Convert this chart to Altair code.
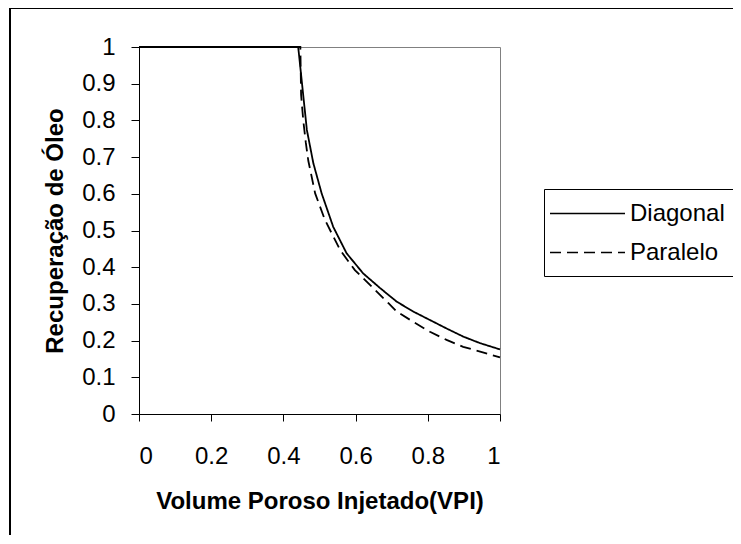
import altair as alt
import pandas as pd

series = ["Diagonal", "Paralelo"]

x_diag = [0.0, 0.441, 0.465, 0.483, 0.506, 0.538, 0.575, 0.621, 0.668, 0.714,
          0.760, 0.806, 0.852, 0.898, 0.945, 1.0]
y_diag = [1.0, 1.0, 0.774, 0.683, 0.601, 0.510, 0.438, 0.383, 0.343, 0.306,
          0.279, 0.256, 0.233, 0.211, 0.193, 0.176]

x_par = [0.0, 0.447, 0.449, 0.455, 0.462, 0.469, 0.488, 0.515, 0.557, 0.598,
         0.645, 0.691, 0.714, 0.760, 0.806, 0.852, 0.898, 0.945, 1.0]
y_par = [1.0, 1.0, 0.870, 0.800, 0.740, 0.690, 0.601, 0.529, 0.447, 0.392,
         0.347, 0.302, 0.279, 0.251, 0.224, 0.202, 0.183, 0.170, 0.154]

x_ticks = [0, 0.2, 0.4, 0.6, 0.8, 1]
y_ticks = [round(i * 0.1, 1) for i in range(11)]

df = pd.concat([
    pd.DataFrame({"x": x_diag, "y": y_diag, "serie": series[0], "ord": range(len(x_diag))}),
    pd.DataFrame({"x": x_par, "y": y_par, "serie": series[1], "ord": range(len(x_par))}),
])

FONT = "Liberation Sans"
one = alt.Data(values=[{"k": 1}])

# outer chart frame (decoration)
frame = alt.Chart(one).mark_rect(
    filled=False, stroke="black", strokeWidth=2
).encode(
    x=alt.value(-129), x2=alt.value(900), y=alt.value(-39), y2=alt.value(900)
)

# legend box (decoration, runs off the right edge as in the original)
legend_box = alt.Chart(one).mark_rect(
    filled=False, stroke="black", strokeWidth=1
).encode(
    x=alt.value(405.5), x2=alt.value(900), y=alt.value(142.5), y2=alt.value(229.5)
)

lines = alt.Chart(df).mark_line(strokeWidth=1.8, color="black").encode(
    x=alt.X("x:Q", scale=alt.Scale(domain=[0, 1], nice=False),
            axis=alt.Axis(values=x_ticks, format=".1~f", title="Volume Poroso Injetado(VPI)",
                          tickSize=7, labelPadding=23, titlePadding=21)),
    y=alt.Y("y:Q", scale=alt.Scale(domain=[0, 1], nice=False),
            axis=alt.Axis(values=y_ticks, format=".1~f", title="Recuperação de Óleo",
                          tickSize=8, labelPadding=16, titlePadding=14)),
    strokeDash=alt.StrokeDash(
        "serie:N",
        scale=alt.Scale(domain=series, range=[[1, 0], [11, 6]]),
        legend=alt.Legend(
            title=None, orient="none", legendX=405, legendY=142,
            symbolType="stroke", symbolSize=5625, symbolStrokeWidth=1.5,
            symbolStrokeColor="black", labelFont=FONT, labelFontSize=24,
            labelColor="black", labelOffset=4, padding=5,
            clipHeight=39, rowPadding=0,
        ),
    ),
    order="ord:Q",
)

chart = alt.layer(frame, legend_box, lines).properties(
    width=361, height=367,
    autosize=alt.AutoSizeParams(type="none"),
    padding={"left": 131, "top": 39, "right": 233, "bottom": 121},
).configure_view(
    stroke="#808080", strokeWidth=1
).configure_axis(
    grid=False, domainColor="black", tickColor="black", labelColor="black",
    titleColor="black", labelFont=FONT, titleFont=FONT, labelFontSize=24,
    titleFontSize=24, titleFontWeight="bold", domainWidth=1, tickWidth=1,
)

chart.save("out.html", embed_options={"renderer": "svg", "actions": False})
